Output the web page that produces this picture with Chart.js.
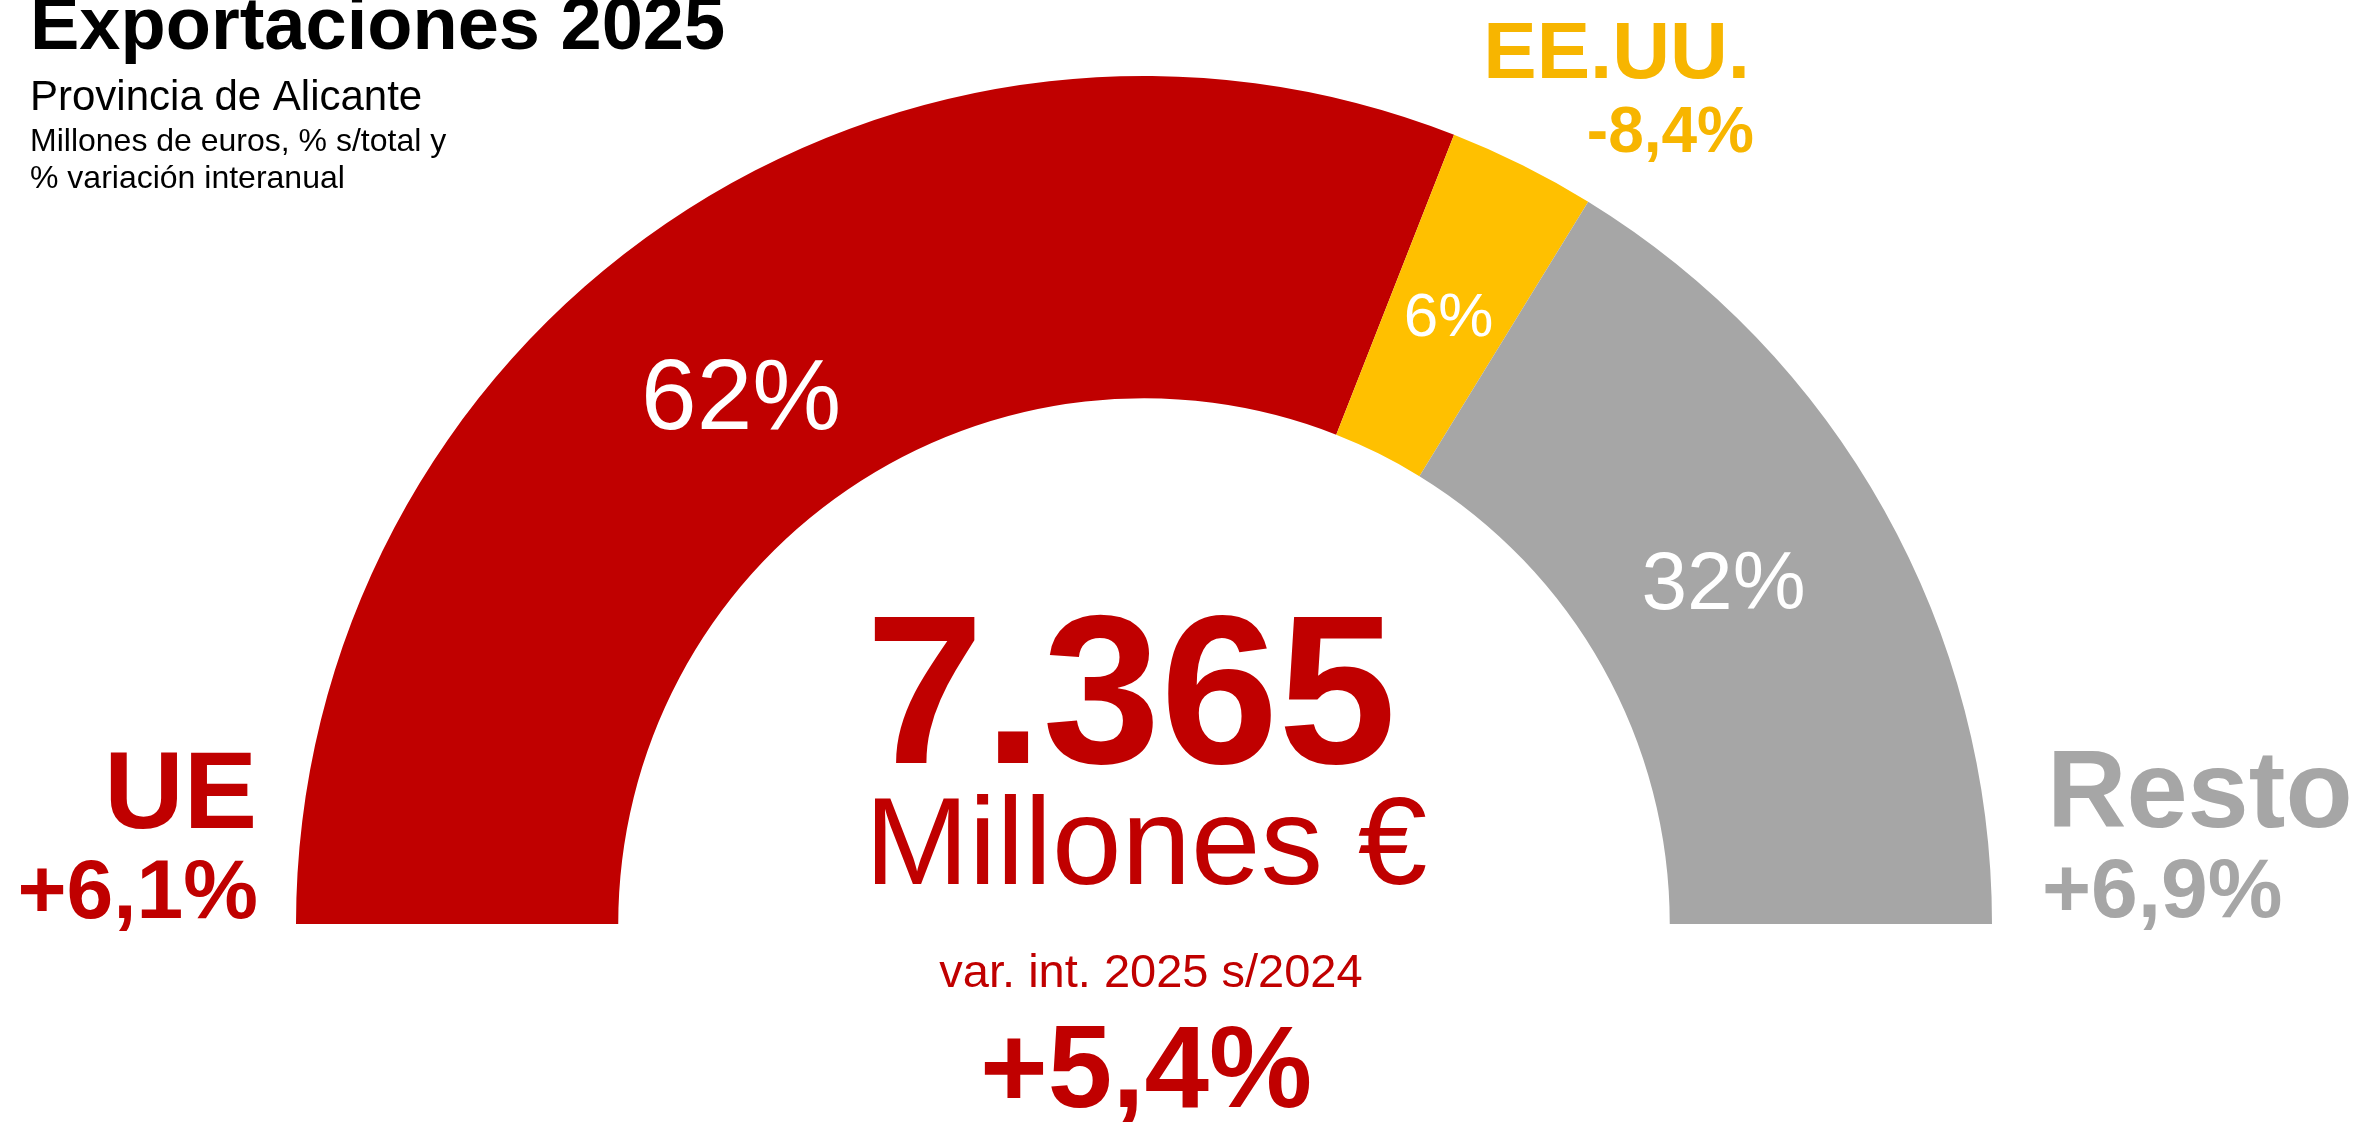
<!DOCTYPE html>
<html>
<head>
<meta charset="utf-8">
<script src="https://cdn.jsdelivr.net/npm/chart.js@4/dist/chart.umd.min.js"></script>
<style>
  html, body { margin: 0; padding: 0; background: #ffffff; }
  #wrap { width: 2356px; height: 1122px; position: relative; }
  canvas { display: block; }
</style>
</head>
<body>
<div id="wrap"><canvas id="c" width="2356" height="1122"></canvas></div>
<script>
// ---- Data ----
const categories = ['UE', 'EE.UU.', 'Resto'];
const exportValues = [4560, 415, 2390];          // millones de euros (estimated)
const variations = ['+6,1%', '-8,4%', '+6,9%'];  // % variación interanual
const totalValue = '7.365';
const totalUnit = 'Millones €';
const totalVarLabel = 'var. int. 2025 s/2024';
const totalVariation = '+5,4%';
const titleText = 'Exportaciones 2025';
const subtitleLines = ['Provincia de Alicante', 'Millones de euros, % s/total y', '% variación interanual'];

// ---- Styles ----
const FONT = '"Liberation Sans", Arial, Helvetica, sans-serif';
const sliceColors = ['#C00000', '#FFC000', '#A6A6A6'];
const labelColors = ['#C00000', '#F7B500', '#A6A6A6'];
const sliceLabelSizes = [100, 62, 82];
const sliceLabelNudge = [[-16, 37], [-2, 4], [-20, -9]];

function drawText(ctx, txt, x, y, size, weight, color, align) {
  ctx.save();
  ctx.font = weight + ' ' + size + 'px ' + FONT;
  ctx.fillStyle = color;
  ctx.textAlign = align;
  ctx.textBaseline = 'alphabetic';
  ctx.fillText(txt, x, y);
  ctx.restore();
}

const textPlugin = {
  id: 'gaugeText',
  afterDatasetsDraw(chart) {
    const ctx = chart.ctx;
    const meta = chart.getDatasetMeta(0);
    const data = chart.data.datasets[0].data;
    const total = data.reduce((a, b) => a + b, 0);

    // slice percentage labels
    meta.data.forEach((arc, i) => {
      const p = arc.getProps(['x', 'y', 'startAngle', 'endAngle', 'innerRadius', 'outerRadius'], true);
      const mid = (p.startAngle + p.endAngle) / 2;
      const r = (p.innerRadius + p.outerRadius) / 2;
      const x = p.x + Math.cos(mid) * r + sliceLabelNudge[i][0];
      const y = p.y + Math.sin(mid) * r + sliceLabelNudge[i][1];
      const pct = Math.round(data[i] / total * 100) + '%';
      const s = sliceLabelSizes[i];
      drawText(ctx, pct, x, y + 0.358 * s, s, 'normal', '#ffffff', 'center');
    });

    // title block
    drawText(ctx, titleText, 30, 49, 74, 'bold', '#000000', 'left');
    drawText(ctx, subtitleLines[0], 30, 110, 42, 'normal', '#000000', 'left');
    drawText(ctx, subtitleLines[1], 30, 151, 32, 'normal', '#000000', 'left');
    drawText(ctx, subtitleLines[2], 30, 188, 32, 'normal', '#000000', 'left');

    // category labels
    drawText(ctx, categories[0], 257, 828, 110, 'bold', labelColors[0], 'right');
    drawText(ctx, variations[0], 258, 918, 84, 'bold', labelColors[0], 'right');
    drawText(ctx, categories[1], 1750, 78, 80, 'bold', labelColors[1], 'right');
    drawText(ctx, variations[1], 1754, 152, 64, 'bold', labelColors[1], 'right');
    drawText(ctx, categories[2], 2047, 827, 110, 'bold', labelColors[2], 'left');
    drawText(ctx, variations[2], 2042, 917, 84, 'bold', labelColors[2], 'left');

    // centre text
    drawText(ctx, totalValue, 1131, 763, 212, 'bold', '#C00000', 'center');
    drawText(ctx, totalUnit, 1146, 884, 125, 'normal', '#C00000', 'center');
    drawText(ctx, totalVarLabel, 1151, 987, 47, 'normal', '#C00000', 'center');
    drawText(ctx, totalVariation, 1146, 1107, 116, 'bold', '#C00000', 'center');
  }
};

new Chart(document.getElementById('c'), {
  type: 'doughnut',
  data: {
    labels: categories,
    datasets: [{
      data: exportValues,
      backgroundColor: sliceColors,
      borderWidth: 0,
      hoverOffset: 0
    }]
  },
  options: {
    responsive: false,
    devicePixelRatio: 1,
    animation: false,
    rotation: -90,
    circumference: 180,
    cutout: '62%',
    layout: { padding: { left: 296, right: 364, top: 76, bottom: 198 } },
    plugins: {
      legend: { display: false },
      tooltip: { enabled: false }
    }
  },
  plugins: [textPlugin]
});
</script>
</body>
</html>
